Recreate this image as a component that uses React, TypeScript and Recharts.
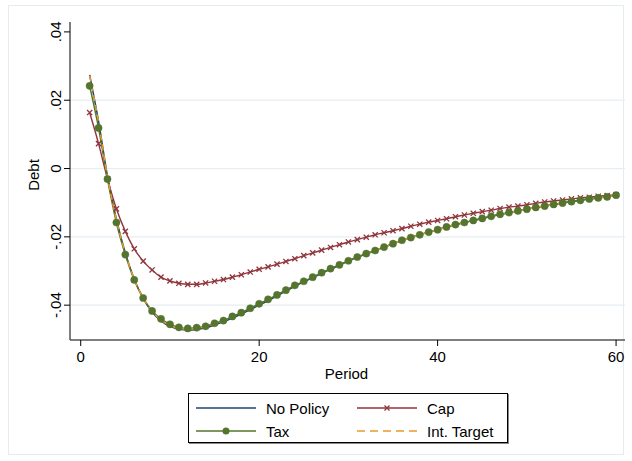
import React from 'react';
import {
    LineChart,
    Line,
    XAxis,
    YAxis,
    ReferenceLine
} from 'recharts';

// period 1..60
const periods = Array.from({ length: 60 }, (_, i) => i + 1);

const noPolicy = [
    0.0274, 0.0138, -0.0022, -0.0148, -0.0247, -0.0324, -0.0380, -0.0420, -0.0446, -0.0462,
    -0.0470, -0.0473, -0.0471, -0.0466, -0.0458, -0.0449, -0.0438, -0.0426, -0.0413, -0.0400,
    -0.0387, -0.0373, -0.0359, -0.0345, -0.0332, -0.0320, -0.0307, -0.0295, -0.0283, -0.0271,
    -0.0260, -0.0250, -0.0240, -0.0230, -0.0220, -0.0211, -0.0202, -0.0194, -0.0186, -0.0179,
    -0.0171, -0.0164, -0.0158, -0.0152, -0.0146, -0.0140, -0.0134, -0.0129, -0.0124, -0.0119,
    -0.0114, -0.0110, -0.0105, -0.0101, -0.0097, -0.0093, -0.0089, -0.0086, -0.0083, -0.0078
];

const cap = [
    0.0164, 0.0073, -0.0030, -0.0118, -0.0184, -0.0235, -0.0271, -0.0297, -0.0318, -0.0329,
    -0.0336, -0.0339, -0.0339, -0.0335, -0.0330, -0.0325, -0.0318, -0.0311, -0.0303, -0.0295,
    -0.0288, -0.0280, -0.0272, -0.0264, -0.0255, -0.0247, -0.0239, -0.0231, -0.0223, -0.0215,
    -0.0208, -0.0201, -0.0194, -0.0188, -0.0182, -0.0176, -0.0169, -0.0163, -0.0157, -0.0152,
    -0.0147, -0.0141, -0.0136, -0.0131, -0.0126, -0.0122, -0.0117, -0.0113, -0.0110, -0.0106,
    -0.0102, -0.0098, -0.0095, -0.0092, -0.0089, -0.0086, -0.0084, -0.0081, -0.0079, -0.0077
];

const tax = [
    0.0242, 0.0119, -0.0031, -0.0158, -0.0252, -0.0326, -0.0379, -0.0417, -0.0440, -0.0456,
    -0.0465, -0.0468, -0.0466, -0.0462, -0.0453, -0.0445, -0.0433, -0.0422, -0.0409, -0.0396,
    -0.0383, -0.0370, -0.0356, -0.0342, -0.0330, -0.0318, -0.0305, -0.0293, -0.0282, -0.0270,
    -0.0259, -0.0249, -0.0240, -0.0230, -0.0220, -0.0210, -0.0202, -0.0194, -0.0186, -0.0179,
    -0.0171, -0.0164, -0.0158, -0.0152, -0.0146, -0.0140, -0.0134, -0.0129, -0.0124, -0.0119,
    -0.0114, -0.0110, -0.0105, -0.0101, -0.0097, -0.0093, -0.0089, -0.0086, -0.0083, -0.0078
];

const intTarget = [
    0.0272, 0.0136, -0.0024, -0.0150, -0.0248, -0.0324, -0.0379, -0.0418, -0.0443, -0.0459,
    -0.0467, -0.0470, -0.0468, -0.0463, -0.0455, -0.0446, -0.0435, -0.0423, -0.0410, -0.0397,
    -0.0384, -0.0371, -0.0357, -0.0343, -0.0331, -0.0319, -0.0306, -0.0294, -0.0282, -0.0270,
    -0.0259, -0.0249, -0.0240, -0.0230, -0.0220, -0.0210, -0.0202, -0.0194, -0.0186, -0.0179,
    -0.0171, -0.0164, -0.0158, -0.0152, -0.0146, -0.0140, -0.0134, -0.0129, -0.0124, -0.0119,
    -0.0114, -0.0110, -0.0105, -0.0101, -0.0097, -0.0093, -0.0089, -0.0086, -0.0083, -0.0078
];

const xTicks = [0, 20, 40, 60];
const yTicks = [-0.04, -0.02, 0, 0.02, 0.04];
const gridValues = [-0.04, -0.02, 0, 0.02];

const data = periods.map((p, i) => ({
    period: p,
    noPolicy: noPolicy[i],
    cap: cap[i],
    tax: tax[i],
    intTarget: intTarget[i]
}));

const NAVY = '#1a476f';
const MAROON = '#90353b';
const GREEN = '#55752f';
const ORANGE = '#e89a2e';
const FONT = '"Liberation Sans", Arial, sans-serif';

const fmtY = (v: number) => {
    if (v === 0) return '0';
    const s = Math.abs(v).toFixed(2).replace(/^0/, '');
    return (v < 0 ? '-' : '') + s;
};

const YTick = (props: any) => {
    const { x, y, payload } = props;
    return (
        <text
            x={x - 1}
            y={y}
            transform={`rotate(-90, ${x - 1}, ${y})`}
            textAnchor="middle"
            fontSize={15}
            fontFamily={FONT}
            fill="#000"
        >
            {fmtY(payload.value)}
        </text>
    );
};

const DebtLabel = (props: any) => {
    const { viewBox } = props;
    const x = viewBox.x + 29;
    const y = viewBox.y + viewBox.height / 2 - 6;
    return (
        <text
            x={x}
            y={y}
            transform={`rotate(-90, ${x}, ${y})`}
            textAnchor="middle"
            fontSize={15}
            fontFamily={FONT}
            fill="#000"
        >
            Debt
        </text>
    );
};

const PeriodLabel = (props: any) => {
    const { viewBox } = props;
    return (
        <text
            x={viewBox.x + viewBox.width / 2 - 1}
            y={379}
            textAnchor="middle"
            fontSize={15}
            fontFamily={FONT}
            fill="#000"
        >
            Period
        </text>
    );
};

const CapDot = (props: any) => {
    const { cx, cy } = props;
    if (cx == null || cy == null) return null;
    const d = 2.6;
    return (
        <path
            d={`M${cx - d},${cy - d}L${cx + d},${cy + d}M${cx - d},${cy + d}L${cx + d},${cy - d}`}
            stroke={MAROON}
            strokeWidth={1.3}
        />
    );
};

const legendItems = [
    { name: 'No Policy', color: NAVY, kind: 'line' },
    { name: 'Cap', color: MAROON, kind: 'x' },
    { name: 'Tax', color: GREEN, kind: 'dot' },
    { name: 'Int. Target', color: ORANGE, kind: 'dash' }
];

const LegendBox = () => (
    <div
        style={{
            position: 'absolute',
            left: 188,
            top: 393,
            width: 320,
            height: 50,
            boxSizing: 'border-box',
            border: '1px solid #000',
            boxShadow: '1px 1px 0 #888',
            background: '#fff',
            fontFamily: FONT,
            fontSize: 15
        }}
    >
        {legendItems.map((it, i) => {
            const col = i % 2;
            const row = Math.floor(i / 2);
            return (
                <div
                    key={it.name}
                    style={{
                        position: 'absolute',
                        left: col === 0 ? 7 : 168,
                        top: row === 0 ? 4 : 27,
                        display: 'flex',
                        alignItems: 'center',
                        height: 20
                    }}
                >
                    <svg width={60} height={12} style={{ marginRight: 10 }}>
                        <line
                            x1={0}
                            x2={60}
                            y1={6}
                            y2={6}
                            stroke={it.color}
                            strokeWidth={1.6}
                            strokeDasharray={it.kind === 'dash' ? '8 5' : undefined}
                        />
                        {it.kind === 'dot' && <circle cx={30} cy={6} r={3.5} fill={it.color} />}
                        {it.kind === 'x' && (
                            <path d="M27.5,3.5L32.5,8.5M27.5,8.5L32.5,3.5" stroke={it.color} strokeWidth={1.3} />
                        )}
                    </svg>
                    <span>{it.name}</span>
                </div>
            );
        })}
    </div>
);

export default function App() {
    return (
        <div
            style={{
                position: 'absolute',
                left: 0,
                top: 0,
                width: 632,
                height: 461,
                background: '#fff'
            }}
        >
            <div
                style={{
                    position: 'absolute',
                    left: 8,
                    top: 5,
                    width: 616,
                    height: 450,
                    border: '1px solid #e4ecf0',
                    boxSizing: 'border-box'
                }}
            />
            <LineChart
                width={632}
                height={461}
                data={data}
                margin={{ top: 22, right: 7, bottom: 91, left: 10 }}
                style={{ position: 'absolute', left: 0, top: 0 }}
            >
                {gridValues.map((v) => (
                    <ReferenceLine key={v} y={v} stroke="#e6eef2" strokeWidth={1.3} />
                ))}
                <XAxis
                    dataKey="period"
                    type="number"
                    domain={[-1.2, 61]}
                    ticks={xTicks}
                    allowDataOverflow
                    height={30}
                    tickSize={6}
                    tickMargin={5}
                    stroke="#444"
                    tick={{ fill: '#000', fontSize: 15, fontFamily: FONT }}
                    tickLine={{ stroke: '#000' }}
                    axisLine={{ stroke: '#555', strokeWidth: 1.5 }}
                    label={<PeriodLabel />}
                />
                <YAxis
                    type="number"
                    domain={[-0.0502, 0.0429]}
                    ticks={yTicks}
                    allowDataOverflow
                    width={60}
                    tickSize={6}
                    tickMargin={2}
                    tick={<YTick />}
                    tickLine={{ stroke: '#000' }}
                    axisLine={{ stroke: '#555', strokeWidth: 1.5 }}
                    label={<DebtLabel />}
                />
                <Line
                    dataKey="noPolicy"
                    name="No Policy"
                    type="monotone"
                    stroke={NAVY}
                    strokeWidth={1.5}
                    dot={false}
                    isAnimationActive={false}
                />
                <Line
                    dataKey="cap"
                    name="Cap"
                    type="monotone"
                    stroke={MAROON}
                    strokeWidth={1.4}
                    dot={<CapDot />}
                    isAnimationActive={false}
                />
                <Line
                    dataKey="tax"
                    name="Tax"
                    type="monotone"
                    stroke={GREEN}
                    strokeWidth={1.5}
                    dot={{ r: 3.6, fill: GREEN, stroke: GREEN, strokeWidth: 0.5 }}
                    isAnimationActive={false}
                />
                <Line
                    dataKey="intTarget"
                    name="Int. Target"
                    type="monotone"
                    stroke={ORANGE}
                    strokeWidth={1.5}
                    strokeDasharray="6 4"
                    dot={false}
                    isAnimationActive={false}
                />
            </LineChart>
            <LegendBox />
        </div>
    );
}
